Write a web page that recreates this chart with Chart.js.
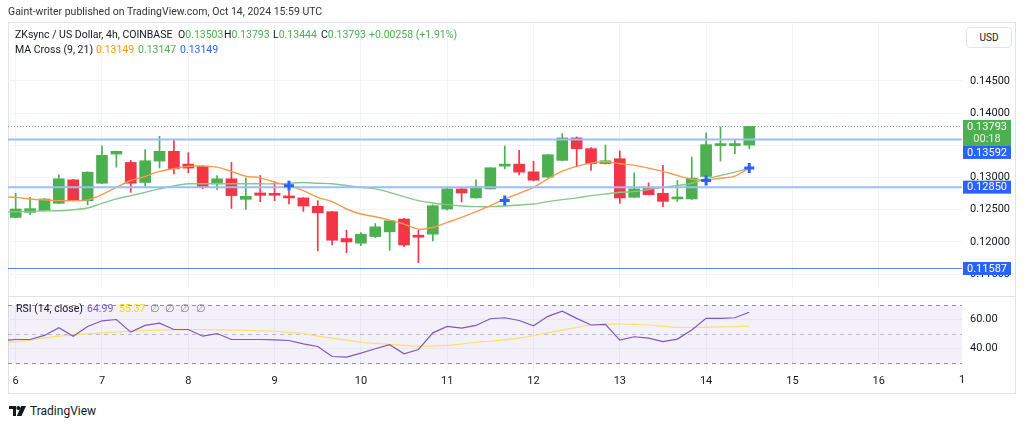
<!DOCTYPE html>
<html>
<head>
<meta charset="utf-8">
<script src="https://cdn.jsdelivr.net/npm/chart.js@4.4.1/dist/chart.umd.min.js"></script>
<style>
  body { margin: 0; width: 1024px; height: 424px; background: #fff; position: relative; overflow: hidden;
         font-family: Roboto, "Noto Sans", sans-serif; color: #131722; }
  #frame { position: absolute; left: 8px; top: 22px; width: 1008px; height: 372px; border: 1px solid #e0e3eb; box-sizing: border-box; }
  #sep { position: absolute; left: 8px; top: 296px; width: 1007px; height: 1px; background: #e0e3eb; }
  canvas { position: absolute; left: 0; }
  #main { top: 0; }
  #rsi { top: 296px; }
  .t { position: absolute; font-size: 10.5px; line-height: 14px; white-space: nowrap; }
  .g { color: #4caf50; }
  #usd { position: absolute; left: 966px; top: 27px; width: 46px; height: 21px; border: 1px solid #e0e3eb; border-radius: 4px;
         box-sizing: border-box; font-size: 10px; line-height: 19px; text-align: center; background: #fff; }
  #logo { position: absolute; left: 9px; top: 404px; display: flex; align-items: center; gap: 4px; font-size: 12px; color: #131722; }
</style>
</head>
<body>
<div id="frame"></div>
<div id="sep"></div>
<canvas id="main" width="1024" height="296"></canvas>
<canvas id="rsi" width="1024" height="98"></canvas>

<div class="t" style="left:8px;top:5px;color:#333">Gaint-writer published on TradingView.com, Oct 14, 2024 15:59 UTC</div>
<div class="t" style="left:15px;top:28px">ZKsync / US Dollar, 4h, COINBASE</div>
<div class="t" style="left:178px;top:28px">O<span class="g">0.13503</span></div>
<div class="t" style="left:224px;top:28px">H<span class="g">0.13793</span></div>
<div class="t" style="left:273px;top:28px">L<span class="g">0.13444</span></div>
<div class="t" style="left:321px;top:28px">C<span class="g">0.13793</span></div>
<div class="t g" style="left:369px;top:28px">+0.00258 (+1.91%)</div>
<div class="t" style="left:15px;top:43px">MA Cross (9, 21)</div>
<div class="t" style="left:96px;top:43px;color:#ff9800">0.13149</div>
<div class="t" style="left:138px;top:43px;color:#4caf50">0.13147</div>
<div class="t" style="left:180px;top:43px;color:#2962ff">0.13149</div>
<div id="usd">USD</div>

<div class="t" style="left:16px;top:302px">RSI (14, close)</div>
<div class="t" style="left:87px;top:302px;color:#7e57c2">64.99</div>
<div class="t" style="left:119px;top:302px;color:#f5d90a">55.37</div>
<div class="t" style="left:150px;top:302px;color:#787b86">∅&nbsp;&nbsp;∅&nbsp;&nbsp;∅&nbsp;&nbsp;∅</div>

<div id="logo">
  <svg width="17" height="10" viewBox="0 0 17 10"><path d="M0 0h7v10H4V3H0z" fill="#131722"/><circle cx="9.3" cy="2" r="2" fill="#131722"/><path d="M12.2 0h4.8l-4.5 10H7.8z" fill="#131722"/></svg>
  <span>TradingView</span>
</div>

<script>
// day labels under the chart, one every 6 candles (4h bars)
const dayLabels = ['6', '7', '8', '9', '10', '11', '12', '13', '14', '15', '16'];

// candles, Oct 6 00:00 onwards
const opens  = [0.12380, 0.12458, 0.12484, 0.12599, 0.12964, 0.12640, 0.12911, 0.13364, 0.13234, 0.12922,
                0.13255, 0.13406, 0.13208, 0.13177, 0.12901, 0.12980, 0.12661, 0.12760, 0.12734, 0.12714,
                0.12683, 0.12552, 0.12469, 0.12052, 0.11980, 0.12083, 0.12156, 0.12355, 0.12089, 0.12120,
                0.12510, 0.12823, 0.12683, 0.12823, 0.13177, 0.13208, 0.13089, 0.13005, 0.13266, 0.13615,
                0.13448, 0.13214, 0.13292, 0.12693, 0.12828, 0.12755, 0.12667, 0.12667, 0.13016, 0.13495,
                0.13495, 0.13503];
const highs  = [0.12755, 0.12692, 0.12672, 0.13042, 0.12970, 0.13088, 0.13489, 0.13410, 0.13266, 0.13432,
                0.13641, 0.13578, 0.13385, 0.13182, 0.13031, 0.13234, 0.12990, 0.13031, 0.12938, 0.12786,
                0.12688, 0.12640, 0.12475, 0.12183, 0.12146, 0.12286, 0.12328, 0.12365, 0.12183, 0.12573,
                0.12850, 0.12828, 0.12964, 0.13151, 0.13489, 0.13422, 0.13250, 0.13354, 0.13682, 0.13630,
                0.13464, 0.13505, 0.13411, 0.13073, 0.12917, 0.13188, 0.12953, 0.13317, 0.13693, 0.13786,
                0.13589, 0.13793];
const lows   = [0.12375, 0.12422, 0.12479, 0.12595, 0.12635, 0.12578, 0.12905, 0.13161, 0.12770, 0.12864,
                0.13146, 0.13057, 0.13073, 0.12823, 0.12812, 0.12520, 0.12505, 0.12625, 0.12640, 0.12590,
                0.12474, 0.11859, 0.11953, 0.11833, 0.11943, 0.12068, 0.11870, 0.11927, 0.11677, 0.12016,
                0.12495, 0.12620, 0.12680, 0.12820, 0.13135, 0.13042, 0.12950, 0.13000, 0.13260, 0.13172,
                0.13109, 0.13210, 0.12599, 0.12690, 0.12730, 0.12547, 0.12630, 0.12660, 0.13010, 0.13255,
                0.13370, 0.13444];
const closes = [0.12511, 0.12516, 0.12667, 0.12980, 0.12640, 0.13083, 0.13344, 0.13406, 0.12911, 0.13260,
                0.13406, 0.13135, 0.13146, 0.12849, 0.12980, 0.12719, 0.12708, 0.12724, 0.12724, 0.12683,
                0.12557, 0.12453, 0.12026, 0.12000, 0.12120, 0.12234, 0.12328, 0.11953, 0.12073, 0.12562,
                0.12823, 0.12760, 0.12859, 0.13151, 0.13208, 0.13083, 0.12958, 0.13354, 0.13615, 0.13448,
                0.13214, 0.13260, 0.12683, 0.12823, 0.12734, 0.12630, 0.12698, 0.12990, 0.13510, 0.13520,
                0.13527, 0.13793];

// MA Cross (9, 21); first value belongs to the bar just left of the view
const maFast = [0.12700, 0.12692, 0.12667, 0.12652, 0.12641, 0.12641, 0.12652, 0.12734, 0.12848, 0.12953, 0.13016,
                0.13094, 0.13136, 0.13172, 0.13177, 0.13161, 0.13094, 0.13020, 0.12995, 0.12927, 0.12870,
                0.12797, 0.12692, 0.12625, 0.12511, 0.12433, 0.12391, 0.12339, 0.12277, 0.12198, 0.12223,
                0.12302, 0.12380, 0.12469, 0.12563, 0.12667, 0.12755, 0.12848, 0.12980, 0.13098, 0.13172,
                0.13223, 0.13245, 0.13214, 0.13188, 0.13145, 0.13094, 0.13031, 0.12973, 0.12964, 0.12989,
                0.13020, 0.13149];
const maSlow = [0.12465, 0.12469, 0.12473, 0.12484, 0.12484, 0.12500, 0.12527, 0.12598, 0.12667, 0.12719, 0.12770,
                0.12823, 0.12870, 0.12902, 0.12902, 0.12902, 0.12902, 0.12902, 0.12902, 0.12902, 0.12911,
                0.12922, 0.12911, 0.12902, 0.12875, 0.12848, 0.12823, 0.12770, 0.12703, 0.12641, 0.12605,
                0.12578, 0.12558, 0.12547, 0.12547, 0.12558, 0.12573, 0.12589, 0.12625, 0.12656, 0.12683,
                0.12719, 0.12745, 0.12770, 0.12781, 0.12813, 0.12848, 0.12875, 0.12911, 0.12980, 0.13031,
                0.13083, 0.13147];
const crossIdx = [19, 34, 48, 51];
const crossVals = [0.12870, 0.12641, 0.12953, 0.13149];

// horizontal levels drawn on the chart
const levels = [0.13592, 0.12850, 0.11587];
const lastPrice = 0.13793;
const countdown = '00:18';
const priceTicks = [0.115, 0.120, 0.125, 0.130, 0.135, 0.140, 0.145];

// RSI (14) and its MA; first value belongs to the bar just left of the view
const rsi = [45.5, 46.2, 46.2, 49.0, 54.3, 48.5, 55.2, 59.1, 60.0, 51.3, 55.9,
             57.5, 53.1, 53.1, 48.5, 50.3, 46.2, 46.2, 46.2, 46.0, 45.5,
             43.2, 41.4, 34.5, 34.1, 36.8, 39.8, 42.6, 36.3, 39.3, 50.8,
             55.2, 54.0, 55.9, 60.5, 61.2, 59.3, 55.7, 62.2, 65.7, 60.8,
             56.2, 56.6, 45.8, 48.1, 47.2, 44.8, 46.5, 52.7, 60.8, 60.8,
             61.2, 64.99];
const rsiMa = [44.2, 44.8, 45.8, 47.3, 48.5, 49.3, 50.1, 50.8, 51.3, 51.9, 52.4,
               52.7, 53.0, 53.1, 53.1, 52.9, 52.7, 52.5, 52.2, 51.9, 51.1,
               50.2, 48.5, 47.2, 45.8, 44.3, 43.5, 42.8, 42.2, 41.6, 41.7,
               42.1, 43.0, 44.3, 45.0, 46.0, 47.2, 48.8, 50.8, 52.7, 54.5,
               56.2, 56.7, 56.9, 56.6, 56.2, 55.4, 54.6, 54.5, 54.6, 54.9,
               55.1, 55.37];
const rsiTicks = [40, 60];
const rsiBands = [70, 50, 30];

const UP = '#4caf50', DOWN = '#f23645';
const X_MIN = -0.535, X_MAX = 65.79;
const dayTicks = dayLabels.map((d, k) => k * 6);

const candleColors = closes.map((c, i) => c >= opens[i] ? UP : DOWN);
const asLine = arr => arr.map((v, i) => ({ x: i - 1, y: v }));
const levelLine = v => [{ x: X_MIN, y: v }, { x: X_MAX, y: v }];

const xScale = (hideLabels, h) => ({
    type: 'linear', min: X_MIN, max: X_MAX, offset: false,
    grid: { color: '#f0f3fa', drawTicks: false, offset: false },
    border: { display: false },
    afterBuildTicks: s => { s.ticks = dayTicks.map(v => ({ value: v })); },
    afterFit: s => { s.height = h; s.paddingLeft = 0; s.paddingRight = 0; },
    ticks: hideLabels ? { display: false } : {
        color: '#131722', font: { size: 11, family: 'Roboto' }, padding: 5, maxRotation: 0,
        callback: v => dayLabels[dayTicks.indexOf(v)]
    }
});

const yScale = (min, max, ticks, digits) => ({
    position: 'right', min: min, max: max,
    grid: { color: '#f0f3fa', drawTicks: false },
    border: { display: false },
    afterBuildTicks: s => { s.ticks = ticks.map(v => ({ value: v })); },
    ticks: { color: '#131722', font: { size: 11, family: 'Roboto' }, padding: 8, callback: v => v.toFixed(digits) },
    afterFit: s => { s.width = 62; s.paddingTop = 0; s.paddingBottom = 0; }
});

// stretch the value range so that one known value sits on a given pixel row
function calibrate(chart, value, atY, pxPerUnit) {
    const a = chart.chartArea;
    chart.options.scales.y.min = value - (a.bottom - atY) / pxPerUnit;
    chart.options.scales.y.max = value + (atY - a.top) / pxPerUnit;
    chart.update();
}

const priceBoxes = {
    id: 'priceBoxes',
    afterDraw(chart) {
        const { ctx } = chart;
        const y = chart.scales.y;
        const x0 = 963, w = 48;
        ctx.save();
        ctx.font = '11px Roboto';
        ctx.textAlign = 'center';
        ctx.textBaseline = 'middle';
        const top = y.getPixelForValue(lastPrice) - 6.5;
        ctx.fillStyle = UP;
        ctx.fillRect(x0, top, w, 26);
        ctx.fillStyle = '#fff';
        ctx.fillText(lastPrice.toFixed(5), x0 + w / 2, top + 7);
        ctx.fillStyle = 'rgba(255,255,255,0.85)';
        ctx.fillText(countdown, x0 + w / 2, top + 19.5);
        let bottom = top + 26;
        levels.forEach(v => {
            let t = y.getPixelForValue(v) - 6.5;
            if (t < bottom) t = bottom;
            ctx.fillStyle = '#2962ff';
            ctx.fillRect(x0, t, w, 13);
            ctx.fillStyle = '#fff';
            ctx.fillText(v.toFixed(5), x0 + w / 2, t + 7);
            bottom = t + 13;
        });
        ctx.restore();
    }
};

const mainChart = new Chart(document.getElementById('main'), {
    type: 'bar',
    data: {
        datasets: [
            {
                label: 'wicks', order: 5, grouped: false, barThickness: 1,
                data: lows.map((l, i) => ({ x: i, y: [l, highs[i]] })),
                backgroundColor: candleColors
            },
            {
                label: 'bodies', order: 4, grouped: false, barThickness: 11, minBarLength: 2,
                data: opens.map((o, i) => ({ x: i, y: [o, closes[i]] })),
                backgroundColor: candleColors
            },
            { type: 'line', label: 'fast', order: 3, data: asLine(maFast), borderColor: '#fb9a4e', borderWidth: 1.4, pointRadius: 0, tension: 0.3 },
            { type: 'line', label: 'slow', order: 3, data: asLine(maSlow), borderColor: '#86c78a', borderWidth: 1.4, pointRadius: 0, tension: 0.3 },
            { type: 'line', label: 'last', order: 2, data: levelLine(lastPrice), borderColor: UP, borderWidth: 1, borderDash: [1, 2], pointRadius: 0 },
            { type: 'line', label: 'lvl1', order: 2, data: levelLine(levels[0]), borderColor: '#9dbdf7', borderWidth: 2, pointRadius: 0 },
            { type: 'line', label: 'lvl2', order: 2, data: levelLine(levels[1]), borderColor: '#9dbdf7', borderWidth: 2, pointRadius: 0 },
            { type: 'line', label: 'lvl3', order: 2, data: levelLine(levels[2]), borderColor: '#5a87ee', borderWidth: 1.2, pointRadius: 0 },
            {
                type: 'line', label: 'cross', order: 1, showLine: false,
                data: crossIdx.map((c, k) => ({ x: c, y: crossVals[k] })),
                pointStyle: 'cross', pointRadius: 5, pointBorderWidth: 3, pointBorderColor: '#2962ff'
            }
        ]
    },
    options: {
        responsive: false, animation: false,
        layout: { padding: { left: 8, top: 22, right: 0, bottom: 0 } },
        plugins: { legend: { display: false }, tooltip: { enabled: false } },
        scales: {
            x: xScale(true, 0),
            y: yScale(0.111406, 0.154219, priceTicks, 5)
        }
    },
    plugins: [priceBoxes]
});
calibrate(mainChart, 0.13, 177.5, 6440);

const rsiDecor = {
    id: 'rsiDecor',
    beforeDatasetsDraw(chart) {
        const { ctx, chartArea: { left, right } } = chart;
        const y = chart.scales.y;
        const y70 = y.getPixelForValue(rsiBands[0]), y30 = y.getPixelForValue(rsiBands[2]);
        ctx.save();
        ctx.fillStyle = 'rgba(126,87,194,0.09)';
        ctx.fillRect(left, y70, right - left, y30 - y70);
        ctx.setLineDash([4, 4]);
        ctx.lineWidth = 1;
        rsiBands.forEach((b, k) => {
            const py = Math.round(y.getPixelForValue(b)) + 0.5;
            ctx.strokeStyle = k === 1 ? 'rgba(120,123,134,0.45)' : '#8f929c';
            ctx.beginPath();
            ctx.moveTo(left, py);
            ctx.lineTo(right, py);
            ctx.stroke();
        });
        ctx.restore();
    },
    afterDraw(chart) {
        // day 17 label, clipped by the price scale
        const { ctx } = chart;
        const x = chart.scales.x;
        ctx.save();
        ctx.font = '11px Roboto';
        ctx.fillStyle = '#131722';
        ctx.textAlign = 'center';
        ctx.textBaseline = 'top';
        ctx.fillText('1', x.getPixelForValue(66) - 3, x.top + 5);
        ctx.restore();
    }
};

const rsiChart = new Chart(document.getElementById('rsi'), {
    type: 'line',
    data: {
        datasets: [
            { label: 'RSI', data: asLine(rsi), borderColor: '#7e57c2', borderWidth: 1.2, pointRadius: 0, tension: 0 },
            { label: 'RSI MA', data: asLine(rsiMa), borderColor: '#f7e26b', borderWidth: 1.2, pointRadius: 0, tension: 0.3 }
        ]
    },
    options: {
        responsive: false, animation: false,
        layout: { padding: { left: 8, top: 1, right: 0, bottom: 0 } },
        plugins: { legend: { display: false }, tooltip: { enabled: false } },
        scales: {
            x: xScale(false, 24),
            y: yScale(25.17, 75.52, rsiTicks, 2)
        }
    },
    plugins: [rsiDecor]
});
calibrate(rsiChart, 50, 38, 1.45);
</script>
</body>
</html>
